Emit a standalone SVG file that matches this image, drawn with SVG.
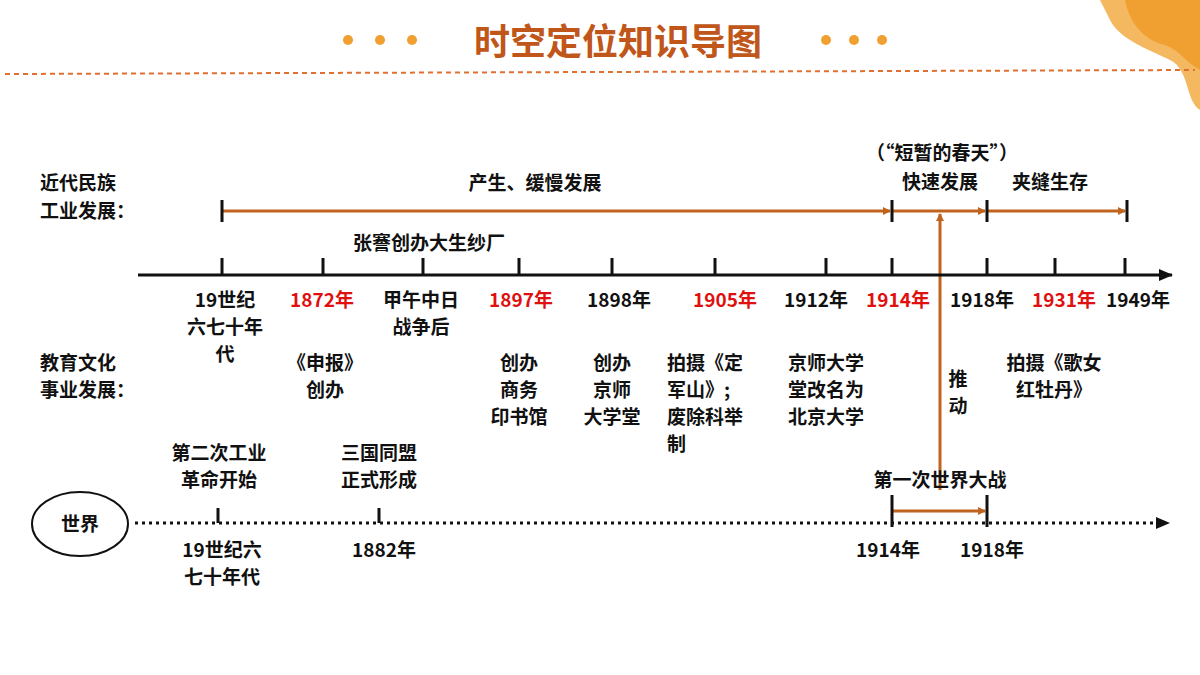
<svg xmlns="http://www.w3.org/2000/svg" width="1200" height="675" viewBox="0 0 1200 675">
<defs>
<marker id="oa" markerWidth="8" markerHeight="8" refX="7" refY="4" orient="auto" markerUnits="userSpaceOnUse"><path d="M0,0 L8,4 L0,8 z" fill="#C0631E"/></marker>
<marker id="ka" markerWidth="14" markerHeight="12" refX="13" refY="6" orient="auto" markerUnits="userSpaceOnUse"><path d="M0,0 L14,6 L0,12 z" fill="#111"/></marker>
<marker id="ua" markerWidth="14" markerHeight="14" refX="12" refY="7" orient="auto" markerUnits="userSpaceOnUse"><path d="M0,0 L14,7 L0,14 z" fill="#C0631E"/></marker>
</defs>
<style>
text{font-family:"Noto Sans CJK SC","Noto Sans",sans-serif;font-weight:bold;font-size:19px;fill:#111}
.c{text-anchor:middle}
.r{fill:#E01010}
.o{stroke:#C0631E;stroke-width:3;fill:none}
.k{stroke:#111;stroke-width:3;fill:none}
</style>
<g id="deco">
<path d="M1100,0 L1200,0 L1200,110 C1185,100 1190,70 1170,60 C1150,50 1120,40 1110,20 Z" fill="#F4B860"/>
<path d="M1125,0 L1200,0 L1200,70 C1185,62 1180,50 1165,45 C1145,40 1130,25 1125,0 Z" fill="#F0A030"/>
<circle cx="348" cy="40" r="5" fill="#F0A030"/><circle cx="380" cy="40" r="5" fill="#F0A030"/><circle cx="412" cy="40" r="5" fill="#F0A030"/>
<circle cx="826" cy="40" r="5" fill="#F0A030"/><circle cx="854" cy="40" r="5" fill="#F0A030"/><circle cx="882" cy="40" r="5" fill="#F0A030"/>
<text x="618" y="55" class="c" style="font-size:36px;fill:#C0561A">时空定位知识导图</text>
<line x1="5" y1="74" x2="1195" y2="70" stroke="#E07030" stroke-width="2" stroke-dasharray="5,4"/>
</g>
<g id="connectors">
<line x1="222" y1="211" x2="890" y2="211" class="o" marker-end="url(#oa)"/>
<line x1="892" y1="211" x2="985" y2="211" class="o" marker-end="url(#oa)"/>
<line x1="987" y1="211" x2="1125" y2="211" class="o" marker-end="url(#oa)"/>
<line x1="940" y1="490" x2="940" y2="214" class="o" marker-end="url(#oa)"/>
<line x1="892" y1="511" x2="985" y2="511" class="o" marker-end="url(#oa)"/>
<path d="M222,200V222M892,200V222M987,200V222M1127,200V222" class="k"/>
<line x1="138" y1="275" x2="1172" y2="275" class="k" marker-end="url(#ka)"/>
<path d="M222,258V275M323,258V275M423,258V275M519,258V275M612,258V275M715,258V275M826,258V275M892,258V275M987,258V275M1055,258V275M1125,258V275" class="k"/>
<line x1="135" y1="523" x2="1160" y2="523" stroke="#111" stroke-width="3" stroke-dasharray="3,4"/>
<path d="M1156,517 L1170,523 L1156,529 z" fill="#111"/>
<path d="M218,508V523M379,508V523M892,495V527M987,495V527" class="k"/>
</g>
<g id="labels">
<text x="40" y="190">近代民族</text><text x="40" y="218">工业发展：</text>
<text x="535" y="190" class="c">产生、缓慢发展</text>
<text x="942" y="160" class="c">（“短暂的春天”）</text>
<text x="940" y="189" class="c">快速发展</text>
<text x="1050" y="189" class="c">夹缝生存</text>
<text x="429" y="250" class="c">张謇创办大生纱厂</text>
<text x="225" y="307" class="c">19世纪</text><text x="225" y="334" class="c">六七十年</text><text x="225" y="361" class="c">代</text>
<text x="322" y="307" class="c r">1872年</text>
<text x="421" y="307" class="c">甲午中日</text><text x="421" y="334" class="c">战争后</text>
<text x="521" y="307" class="c r">1897年</text>
<text x="619" y="307" class="c">1898年</text>
<text x="725" y="307" class="c r">1905年</text>
<text x="816" y="307" class="c">1912年</text>
<text x="898" y="307" class="c r">1914年</text>
<text x="982" y="307" class="c">1918年</text>
<text x="1064" y="307" class="c r">1931年</text>
<text x="1138" y="307" class="c">1949年</text>
<text x="40" y="370">教育文化</text><text x="40" y="397">事业发展：</text>
<text x="325" y="370" class="c">《申报》</text><text x="325" y="397" class="c">创办</text>
<text x="519" y="370" class="c">创办</text><text x="519" y="397" class="c">商务</text><text x="519" y="424" class="c">印书馆</text>
<text x="612" y="370" class="c">创办</text><text x="612" y="397" class="c">京师</text><text x="612" y="424" class="c">大学堂</text>
<text x="667" y="370">拍摄《定</text><text x="667" y="397">军山》;</text><text x="667" y="424">废除科举</text><text x="667" y="451">制</text>
<text x="826" y="370" class="c">京师大学</text><text x="826" y="397" class="c">堂改名为</text><text x="826" y="424" class="c">北京大学</text>
<text x="958" y="386" class="c">推</text><text x="958" y="413" class="c">动</text>
<text x="1054" y="370" class="c">拍摄《歌女</text><text x="1054" y="397" class="c">红牡丹》</text>
<text x="219" y="460" class="c">第二次工业</text><text x="219" y="487" class="c">革命开始</text>
<text x="379" y="460" class="c">三国同盟</text><text x="379" y="487" class="c">正式形成</text>
<text x="940" y="487" class="c">第一次世界大战</text>
<ellipse cx="80" cy="524" rx="48" ry="32" fill="#fff" stroke="#111" stroke-width="2"/>
<text x="80" y="531" class="c">世界</text>
<text x="222" y="557" class="c">19世纪六</text><text x="222" y="584" class="c">七十年代</text>
<text x="384" y="557" class="c">1882年</text>
<text x="888" y="557" class="c">1914年</text>
<text x="992" y="557" class="c">1918年</text>
</g>
</svg>
